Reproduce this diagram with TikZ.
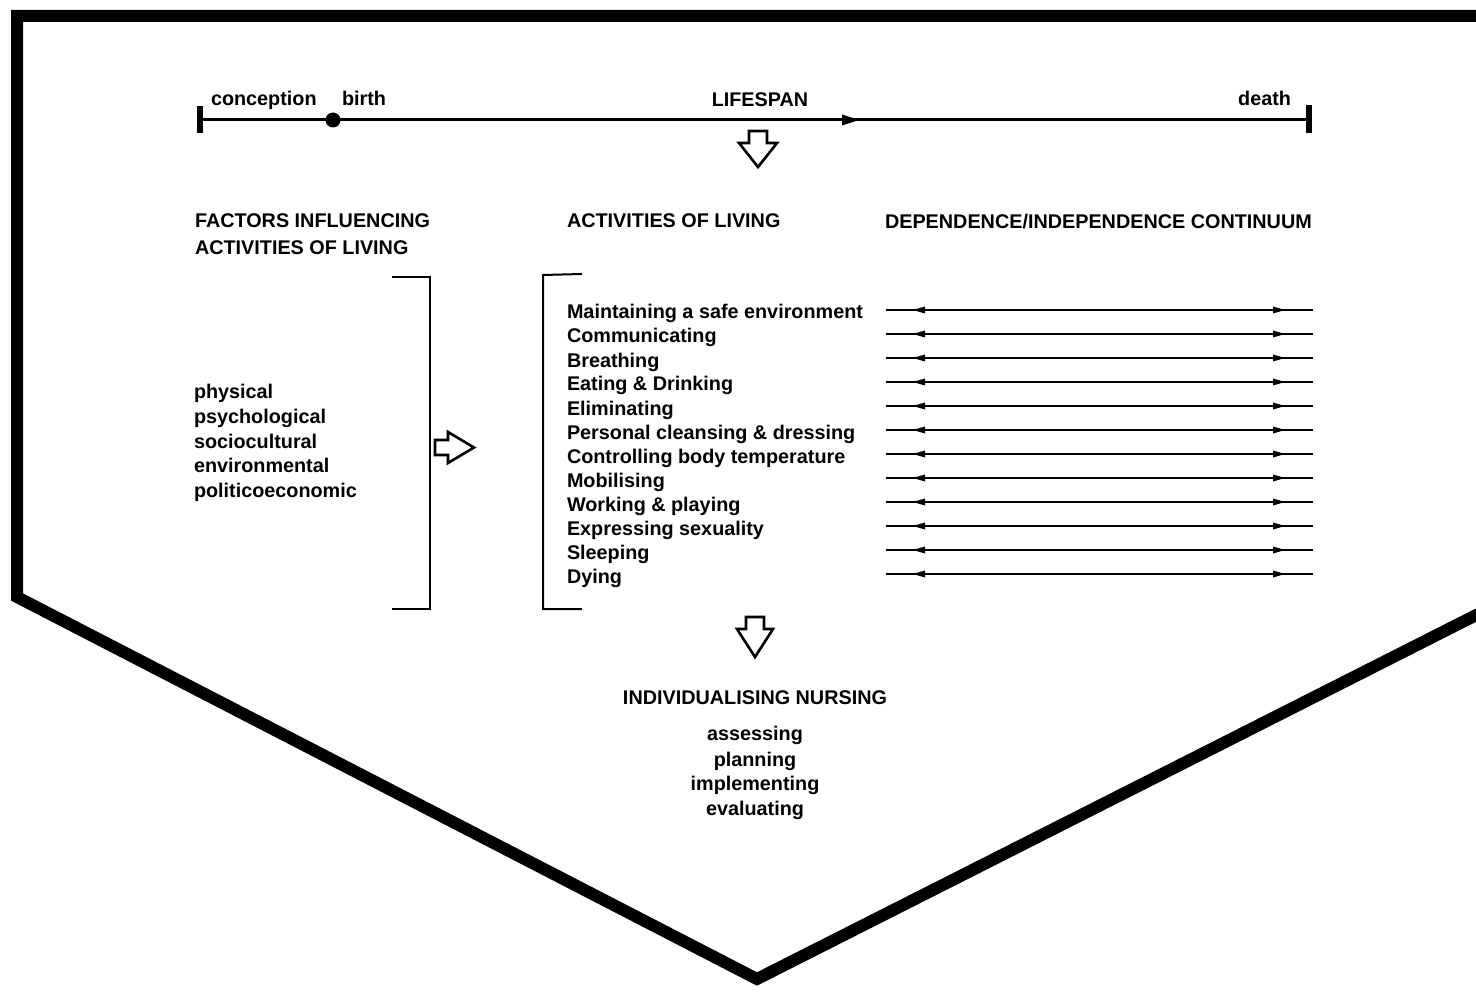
\documentclass[tikz,border=0pt]{standalone}
\usepackage{fontspec}
\setmainfont{Liberation Sans}
\usetikzlibrary{arrows.meta}
\tikzset{
  txt/.style={font=\fontsize{19.8}{22}\selectfont\bfseries, inner sep=0pt, outer sep=0pt},
  frame/.style={line width=12pt, line join=miter, line cap=butt},
  tline/.style={line width=3pt},
  bar/.style={line width=6pt},
  brk/.style={line width=2pt},
  cont/.style={line width=2.4pt},
  hollow/.style={line width=2.6pt, line join=miter, fill=white},
}
\begin{document}
\begin{tikzpicture}[x=1pt,y=-1pt]
\useasboundingbox (0,0) rectangle (1476,992);
% outer frame
\begin{scope}
\clip (0,0) rectangle (1476,992);
\draw[frame] (1500,16) -- (17,16) -- (17,597) -- (757,979) -- (1500,603);
\end{scope}

% lifespan line
\coordinate (ls) at (200,120);
\coordinate (le) at (1309,120);
\draw[tline] (ls) -- (le);
\draw[bar] (200,106) -- (200,133);
\draw[bar] (1309,105) -- (1309,133);
\fill (333,120) circle (7.5);
\fill (859,120) -- (842,114.5) -- (842,125.5) -- cycle;
\node[txt, anchor=base west] (conc) at (211,106) {conception};
\node[txt, anchor=base west] (birth) at (342,106) {birth};
\node[txt, anchor=base] (life) at (760,107) {LIFESPAN};
\node[txt, anchor=base east] (death) at (1291,106) {death};

% down arrow 1
\draw[hollow] (749,131) -- (767,131) -- (767,143) -- (777,143) -- (758,167) -- (739,143) -- (749,143) -- cycle;

% headings
\node[txt, anchor=base west, align=left] (fac1) at (195,228) {FACTORS INFLUENCING};
\node[txt, anchor=base west] (fac2) at (195,255) {ACTIVITIES OF LIVING};
\node[txt, anchor=base west] (aol) at (567,228) {ACTIVITIES OF LIVING};
\node[txt, anchor=base west] (dic) at (885,229) {DEPENDENCE/INDEPENDENCE CONTINUUM};

% factors list
\foreach \t [count=\i from 0] in {physical,psychological,sociocultural,environmental,politicoeconomic}{
  \node[txt, anchor=base west] (f\i) at (194,{399+24.5*\i}) {\t};
}

% left bracket
\draw[brk] (392,277) -- (430,277) -- (430,609) -- (392,609);
% right hollow arrow
\draw[hollow] (435,440) -- (448,440) -- (448,432) -- (474,447.5) -- (448,463) -- (448,455) -- (435,455) -- cycle;
% right bracket
\draw[brk] (582,274) -- (543,275) -- (543,609) -- (582,609);

% activities list
\foreach \t [count=\i from 0] in {Maintaining a safe environment,Communicating,Breathing,Eating \& Drinking,Eliminating,Personal cleansing \& dressing,Controlling body temperature,Mobilising,Working \& playing,Expressing sexuality,Sleeping,Dying}{
  \node[txt, anchor=base west] (a\i) at (567,{319+24*\i}) {\t};
}

% continuum lines
\foreach \i in {0,...,11}{
  \pgfmathsetmacro{\yy}{310+24*\i}
  \coordinate (cl\i) at (886,\yy);
  \coordinate (cr\i) at (1313,\yy);
  \draw[cont] (cl\i) -- (cr\i);
  \fill (913,\yy) -- (925,\yy-3.5) -- (925,\yy+3.5) -- cycle;
  \fill (1285,\yy) -- (1273,\yy-3.5) -- (1273,\yy+3.5) -- cycle;
}

% down arrow 2
\draw[hollow] (746,617) -- (764,617) -- (764,629) -- (773,629) -- (755,657) -- (737,629) -- (746,629) -- cycle;

% nursing
\node[txt, anchor=base] (ind) at (755,704) {INDIVIDUALISING NURSING};
\node[txt, anchor=base] (n1) at (755,740) {assessing};
\node[txt, anchor=base] (n2) at (755,766) {planning};
\node[txt, anchor=base] (n3) at (755,790) {implementing};
\node[txt, anchor=base] (n4) at (755,815) {evaluating};
\end{tikzpicture}
\end{document}
